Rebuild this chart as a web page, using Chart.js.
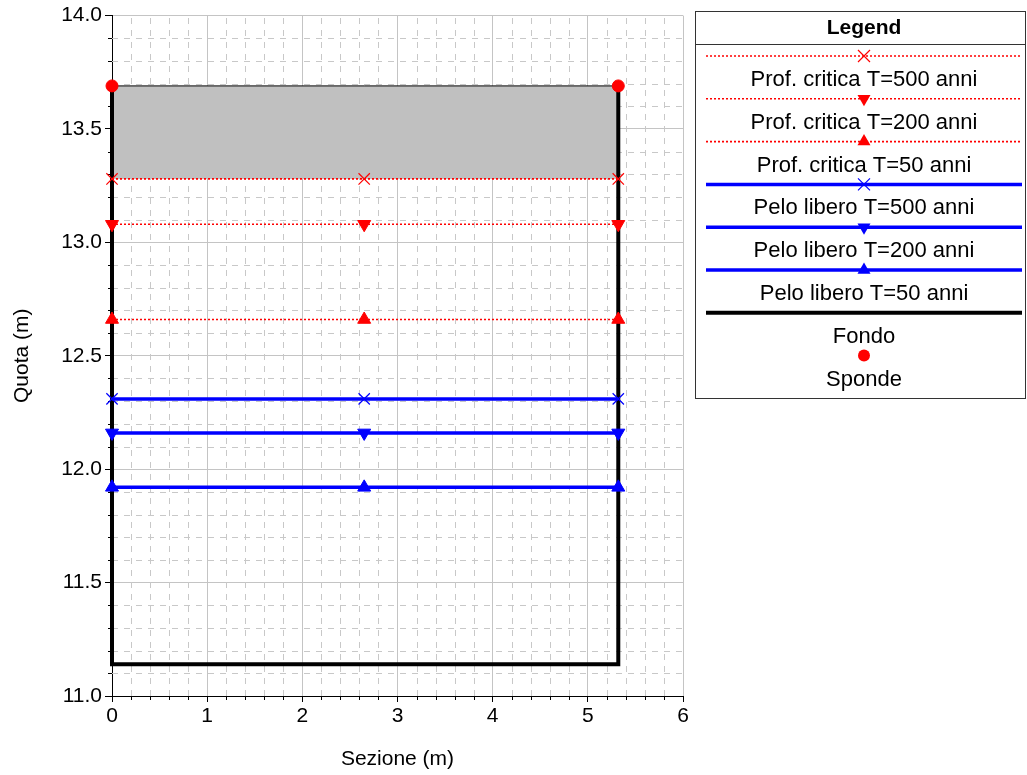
<!DOCTYPE html>
<html>
<head>
<meta charset="utf-8">
<script src="https://cdn.jsdelivr.net/npm/chart.js@4.4.1/dist/chart.umd.min.js"></script>
<style>
    html, body { margin: 0; padding: 0; background: #fff; }
    #wrap { width: 1027px; height: 775px; }
</style>
</head>
<body>
<div id="wrap"><canvas id="sectionChart" width="1027" height="775"></canvas></div>
<script>
// section geometry (m)
const sezioneX = [0, 2.65, 5.32];
const fondoX = [0, 0, 5.32, 5.32];
const fondoY = [13.69, 11.14, 11.14, 13.69];
const spondeX = [0, 5.32];
const spondeY = [13.69, 13.69];

// water levels (m)
const profCritica500 = [13.28, 13.28, 13.28];
const profCritica200 = [13.08, 13.08, 13.08];
const profCritica50 = [12.66, 12.66, 12.66];
const peloLibero500 = [12.31, 12.31, 12.31];
const peloLibero200 = [12.16, 12.16, 12.16];
const peloLibero50 = [11.92, 11.92, 11.92];
const bandTop = [13.69, 13.69, 13.69];

const legendLabels = [
    'Prof. critica T=500 anni', 'Prof. critica T=200 anni', 'Prof. critica T=50 anni',
    'Pelo libero T=500 anni', 'Pelo libero T=200 anni', 'Pelo libero T=50 anni',
    'Fondo', 'Sponde'
];

const xTicks = [0, 1, 2, 3, 4, 5, 6];
const yTicks = [11.0, 11.5, 12.0, 12.5, 13.0, 13.5, 14.0];

const FONT = 'Liberation Sans, Arial, sans-serif';
const RED = '#ff0000';
const BLUE = '#0000ff';

function pts(xs, ys) {
    return xs.map((x, i) => ({ x: x, y: ys[i] }));
}

function levelLine(label, ys, color, style, rot, dotted) {
    return {
        label: label,
        data: pts(sezioneX, ys),
        borderColor: color,
        backgroundColor: color,
        borderWidth: dotted ? 1.6 : 3.5,
        borderDash: dotted ? [2, 2] : [],
        pointStyle: style,
        rotation: rot,
        pointRadius: style === 'crossRot' ? 8 : 7.5,
        pointBorderWidth: style === 'crossRot' ? 1.2 : 1,
        pointBorderColor: color,
        pointBackgroundColor: color,
        fill: false,
        clip: false,
        order: 2
    };
}

// dashed minor grid + minor ticks
const minorGrid = {
    id: 'minorGrid',
    beforeDatasetsDraw(chart) {
        const { ctx, chartArea: a, scales: { x, y } } = chart;
        ctx.save();
        ctx.strokeStyle = '#c8c8c8';
        ctx.lineWidth = 1;
        ctx.setLineDash([6, 6]);
        for (let i = 1; i < 30; i++) {
            if (i % 5 === 0) continue;
            const px = Math.round(x.getPixelForValue(i * 0.2)) + 0.5;
            ctx.beginPath(); ctx.moveTo(px, a.bottom); ctx.lineTo(px, a.top); ctx.stroke();
        }
        for (let i = 1; i < 30; i++) {
            if (i % 5 === 0) continue;
            const py = Math.round(y.getPixelForValue(11 + i * 0.1)) + 0.5;
            ctx.beginPath(); ctx.moveTo(a.left, py); ctx.lineTo(a.right, py); ctx.stroke();
        }
        ctx.setLineDash([]);
        ctx.strokeStyle = '#000';
        for (let i = 1; i < 30; i++) {
            if (i % 5 === 0) continue;
            const px = Math.round(x.getPixelForValue(i * 0.2)) + 0.5;
            ctx.beginPath(); ctx.moveTo(px, a.bottom); ctx.lineTo(px, a.bottom + 4); ctx.stroke();
            const py = Math.round(y.getPixelForValue(11 + i * 0.1)) + 0.5;
            ctx.beginPath(); ctx.moveTo(a.left, py); ctx.lineTo(a.left - 4, py); ctx.stroke();
        }
        ctx.restore();
    }
};

function drawMarker(ctx, style, rot, color, cx, cy, r) {
    ctx.save();
    ctx.translate(cx, cy);
    ctx.rotate(rot * Math.PI / 180);
    ctx.fillStyle = color;
    ctx.strokeStyle = color;
    ctx.setLineDash([]);
    ctx.beginPath();
    if (style === 'crossRot') {
        const d = r * 0.75;
        ctx.lineWidth = 1.2;
        ctx.moveTo(-d, -d); ctx.lineTo(d, d);
        ctx.moveTo(-d, d); ctx.lineTo(d, -d);
        ctx.stroke();
    } else if (style === 'triangle') {
        ctx.moveTo(0, -r);
        ctx.lineTo(r * 0.866, r * 0.5);
        ctx.lineTo(-r * 0.866, r * 0.5);
        ctx.closePath();
        ctx.fill();
    } else if (style === 'circle') {
        ctx.arc(0, 0, r, 0, Math.PI * 2);
        ctx.fill();
    }
    ctx.restore();
}

// boxed legend on the right
const sideLegend = {
    id: 'sideLegend',
    afterDraw(chart) {
        const ctx = chart.ctx;
        const left = 695, top = 11, right = 1026, bottom = 398;
        const cx = 864;
        ctx.save();
        ctx.strokeStyle = '#333';
        ctx.lineWidth = 1;
        ctx.strokeRect(left + 0.5, top + 0.5, right - left - 1, bottom - top);
        ctx.beginPath(); ctx.moveTo(left, 44.5); ctx.lineTo(right, 44.5); ctx.stroke();
        ctx.fillStyle = '#000';
        ctx.textAlign = 'center';
        ctx.textBaseline = 'middle';
        ctx.font = 'bold 21px ' + FONT;
        ctx.fillText('Legend', cx, 28);

        const sets = chart.data.datasets.filter(d => d.legendRow !== undefined);
        sets.forEach(d => {
            const k = d.legendRow;
            const ly = 56 + 42.8 * k;
            if (d.showLine !== false) {
                ctx.strokeStyle = d.borderColor;
                ctx.lineWidth = d.borderWidth;
                ctx.setLineDash(d.borderDash || []);
                ctx.beginPath(); ctx.moveTo(706, ly); ctx.lineTo(1022, ly); ctx.stroke();
            }
            if (d.pointRadius > 0) {
                drawMarker(ctx, d.pointStyle, d.rotation || 0, d.pointBackgroundColor, cx, ly, d.pointRadius);
            }
        });
        ctx.setLineDash([]);
        ctx.font = '22px ' + FONT;
        legendLabels.forEach((t, k) => {
            ctx.fillText(t, cx, 80 + 42.8 * k);
        });
        ctx.restore();
    }
};

const datasets = [
    {
        label: 'band',
        data: pts(sezioneX, bandTop),
        borderColor: '#000',
        borderWidth: 1,
        backgroundColor: '#c0c0c0',
        pointRadius: 0,
        fill: '+1',
        order: 5
    },
    levelLine(legendLabels[0], profCritica500, RED, 'crossRot', 0, true),
    levelLine(legendLabels[1], profCritica200, RED, 'triangle', 180, true),
    levelLine(legendLabels[2], profCritica50, RED, 'triangle', 0, true),
    levelLine(legendLabels[3], peloLibero500, BLUE, 'crossRot', 0, false),
    levelLine(legendLabels[4], peloLibero200, BLUE, 'triangle', 180, false),
    levelLine(legendLabels[5], peloLibero50, BLUE, 'triangle', 0, false),
    {
        label: legendLabels[6],
        data: pts(fondoX, fondoY),
        borderColor: '#000',
        borderWidth: 4,
        pointRadius: 0,
        fill: false,
        clip: false,
        order: 3
    },
    {
        label: legendLabels[7],
        data: pts(spondeX, spondeY),
        showLine: false,
        pointStyle: 'circle',
        pointRadius: 6,
        pointBackgroundColor: RED,
        pointBorderColor: RED,
        backgroundColor: RED,
        borderColor: RED,
        clip: false,
        order: 1
    }
];
datasets.forEach((d, i) => { if (i > 0) d.legendRow = i - 1; });

new Chart(document.getElementById('sectionChart'), {
    type: 'line',
    data: { datasets: datasets },
    plugins: [minorGrid, sideLegend],
    options: {
        responsive: false,
        animation: false,
        layout: { padding: { left: 0, top: 15, right: 344, bottom: 0 } },
        plugins: {
            legend: { display: false },
            tooltip: { enabled: false }
        },
        scales: {
            x: {
                type: 'linear',
                min: 0,
                max: 6,
                afterBuildTicks: s => { s.ticks = xTicks.map(v => ({ value: v })); },
                afterFit: s => { s.height = 79; },
                ticks: {
                    color: '#000',
                    font: { family: FONT, size: 21 },
                    padding: 2,
                    maxRotation: 0,
                    callback: v => String(v)
                },
                grid: { color: '#c4c4c4', lineWidth: 1, tickColor: '#000', tickLength: 6 },
                border: { color: '#000', width: 1 },
                title: {
                    display: true,
                    text: 'Sezione (m)',
                    color: '#000',
                    font: { family: FONT, size: 21 },
                    padding: { top: 0, bottom: 3 }
                }
            },
            y: {
                type: 'linear',
                min: 11,
                max: 14,
                afterBuildTicks: s => { s.ticks = yTicks.map(v => ({ value: v })); },
                afterFit: s => { s.width = 112; },
                ticks: {
                    color: '#000',
                    font: { family: FONT, size: 21 },
                    padding: 3,
                    callback: v => Number(v).toFixed(1)
                },
                grid: { color: '#c4c4c4', lineWidth: 1, tickColor: '#000', tickLength: 7 },
                border: { color: '#000', width: 1 },
                title: {
                    display: true,
                    text: 'Quota (m)',
                    color: '#000',
                    font: { family: FONT, size: 21 },
                    padding: { top: 10, bottom: 0 }
                }
            }
        }
    }
});
</script>
</body>
</html>
